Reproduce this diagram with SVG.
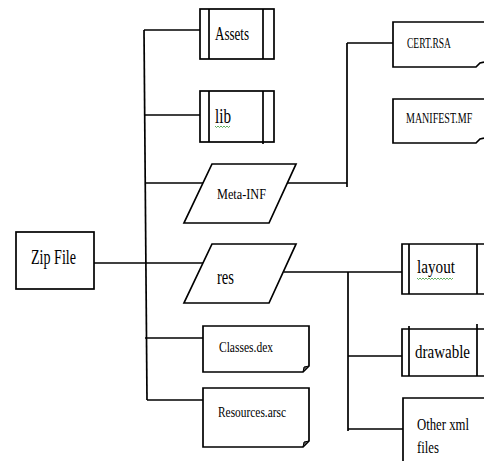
<svg xmlns="http://www.w3.org/2000/svg" width="484" height="461" viewBox="0 0 484 461">
<style>
.s{fill:#fff;stroke:#000;stroke-width:1.7}
.w{fill:#fff;stroke:none}
.l{fill:none;stroke:#000;stroke-width:1.7}
.t{font-family:"Liberation Serif","Times New Roman",serif;fill:#000}
.sq{fill:none;stroke:#3a9a3a;stroke-width:0.8}
.f{fill:#555;stroke:#000;stroke-width:1}
</style>
<rect width="484" height="461" fill="#fff"/>
<g id="connectors">
<path class="l" d="M144,30 L147,400"/>
<path class="l" d="M144,30 H200"/>
<path class="l" d="M145,115 H200"/>
<path class="l" d="M145,183 H203"/>
<path class="l" d="M94,263 H203"/>
<path class="l" d="M145,338 H204"/>
<path class="l" d="M147,400 H204"/>
<path class="l" d="M286,183 H347 M347,187 V43 M347,43 H393"/>
<path class="l" d="M284,272 H402 M348,272 V431 M348,356 H402 M348,429 H403"/>
</g>
<g id="zip">
<rect class="s" x="16" y="232" width="78" height="57"/>
<text class="t" x="31" y="264" font-size="20" textLength="45" lengthAdjust="spacingAndGlyphs">Zip File</text>
</g>
<g id="assets">
<rect class="s" x="200" y="9" width="74" height="50"/>
<path class="l" d="M209,9 V59 M263,9 V59"/>
<text class="t" x="215" y="40" font-size="19" textLength="34" lengthAdjust="spacingAndGlyphs">Assets</text>
</g>
<g id="lib">
<rect class="s" x="200" y="91" width="74" height="51"/>
<path class="l" d="M209,91 V142 M263,91 V144"/>
<text class="t" x="215" y="123" font-size="20" textLength="16" lengthAdjust="spacingAndGlyphs">lib</text>
<path class="sq" d="M215,126 l1.5,1.5 l1.5,-1.5 l1.5,1.5 l1.5,-1.5 l1.5,1.5 l1.5,-1.5 l1.5,1.5 l1.5,-1.5 l1.5,1.5 l1.5,-1.5"/>
</g>
<g id="meta-inf">
<path class="s" d="M212,164 H296 L269,223 H184 Z"/>
<text class="t" x="217" y="199" font-size="15" textLength="49" lengthAdjust="spacingAndGlyphs">Meta-INF</text>
</g>
<g id="res">
<path class="s" d="M212,244 H296 L269,303 H184 Z"/>
<text class="t" x="217" y="284" font-size="22" textLength="17" lengthAdjust="spacingAndGlyphs">res</text>
</g>
<g id="classes">
<path class="s" d="M203,326 H309 V366 L303,372 H203 Z"/>
<path class="f" d="M303,372 L304,367 L309,366 Z"/>
<text class="t" x="219" y="352" font-size="14" textLength="54" lengthAdjust="spacingAndGlyphs">Classes.dex</text>
</g>
<g id="resources">
<path class="s" d="M203,388 H309 V441 L303,447 H203 Z"/>
<path class="f" d="M303,447 L304,442 L309,441 Z"/>
<text class="t" x="218" y="417" font-size="14" textLength="68" lengthAdjust="spacingAndGlyphs">Resources.arsc</text>
</g>
<g id="cert">
<rect class="w" x="393" y="22" width="91" height="45"/>
<path class="l" d="M484,22 H393 V67 H476 L480,63 L484,62"/>
<text class="t" x="407" y="48" font-size="14" textLength="44" lengthAdjust="spacingAndGlyphs">CERT.RSA</text>
</g>
<g id="manifest">
<rect class="w" x="393" y="99" width="91" height="44"/>
<path class="l" d="M484,99 H393 V143 H476 L480,139 L484,138"/>
<text class="t" transform="translate(406,123) scale(0.715,1)" x="0" y="0" font-size="14">MANIFEST.MF</text>
</g>
<g id="layout">
<rect class="w" x="402" y="244" width="82" height="50"/>
<path class="l" d="M484,244 H402 V294 H484 M409,244 V294 M477,244 V294"/>
<text class="t" x="417" y="273" font-size="19" textLength="38" lengthAdjust="spacingAndGlyphs">layout</text>
<path class="sq" d="M417,278 l1.5,1.5 l1.5,-1.5 l1.5,1.5 l1.5,-1.5 l1.5,1.5 l1.5,-1.5 l1.5,1.5 l1.5,-1.5 l1.5,1.5 l1.5,-1.5 l1.5,1.5 l1.5,-1.5 l1.5,1.5 l1.5,-1.5 l1.5,1.5 l1.5,-1.5 l1.5,1.5 l1.5,-1.5 l1.5,1.5 l1.5,-1.5 l1.5,1.5 l1.5,-1.5 l1.5,1.5 l1.5,-1.5"/>
</g>
<g id="drawable">
<rect class="w" x="402" y="329" width="82" height="47"/>
<path class="l" d="M484,329 H402 V376 H484 M409,326 V376 M477,324 V376"/>
<text class="t" x="415" y="358" font-size="19" textLength="55" lengthAdjust="spacingAndGlyphs">drawable</text>
</g>
<g id="other-xml">
<rect class="w" x="403" y="398" width="81" height="63"/>
<path class="l" d="M484,398 H403 V461"/>
<text class="t" transform="translate(417,430) scale(0.75,1)" x="0" y="0" font-size="17">Other xml</text>
<text class="t" transform="translate(417,453) scale(0.75,1)" x="0" y="0" font-size="17">files</text>
</g>
</svg>
